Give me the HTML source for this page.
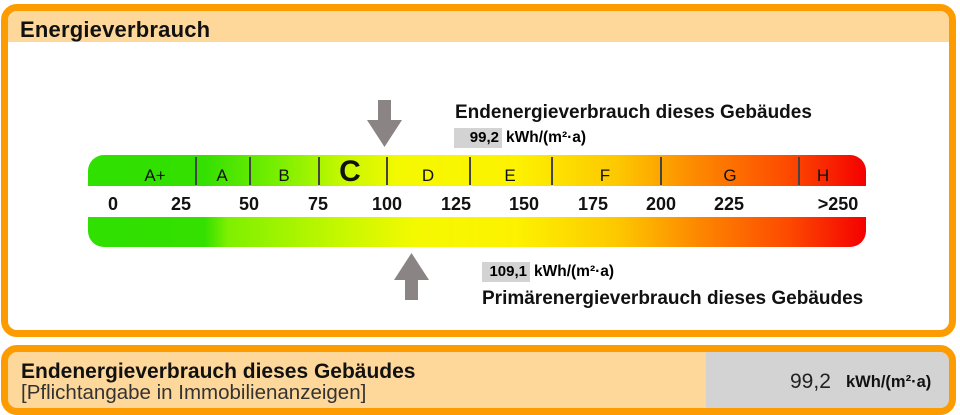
<!DOCTYPE html>
<html><head><meta charset="utf-8"><style>
body{margin:0;width:960px;height:415px;background:#fff;font-family:"Liberation Sans",sans-serif;position:relative;overflow:hidden}
.a{position:absolute;white-space:nowrap}
.box{position:absolute;border:7px solid #fd9c00;border-radius:16px;box-sizing:border-box;overflow:hidden;background:#fff}
.t{position:absolute;font-size:17px;color:#111;transform:translateX(-50%);top:167px;line-height:17px}
.n{position:absolute;font-size:18px;font-weight:bold;color:#111;transform:translateX(-50%);top:194px;line-height:20px}
.d{position:absolute;top:157px;width:2px;height:28px;background:#444}
.g{position:absolute;background:#d3d3d3;font-weight:bold;font-size:14px;text-align:right;padding-right:3px;box-sizing:border-box;line-height:20px}
</style></head><body>
<div class="box" style="left:1px;top:4px;width:955px;height:333px">
<div style="position:absolute;left:0;top:0;right:0;height:31px;background:#fed79a"></div>
<div class="a" style="left:12px;top:6px;font-size:22px;font-weight:bold;color:#111;letter-spacing:0.2px">Energieverbrauch</div>
</div>
<div style="position:absolute;left:88px;top:155px;width:778px;height:31px;border-radius:16px 16px 0 0;background:linear-gradient(90deg,#2fe000 0%,#34e000 15%,#7ef000 25%,#c8f800 33%,#f4f900 40%,#fdf200 55%,#fdc800 68%,#fd8a00 78%,#fd4a00 90%,#f50000 100%)"></div>
<div style="position:absolute;left:88px;top:217px;width:778px;height:30px;border-radius:0 0 16px 16px;background:linear-gradient(90deg,#2fe000 0%,#34e000 15%,#7ef000 18%,#c8f800 33%,#f4f900 42%,#fdf200 55%,#fdc800 68%,#fd8a00 78%,#fd4a00 90%,#f50000 100%)"></div>
<div class="d" style="left:195px"></div><div class="d" style="left:249px"></div><div class="d" style="left:318px"></div><div class="d" style="left:386px"></div><div class="d" style="left:469px"></div><div class="d" style="left:551px"></div><div class="d" style="left:660px"></div><div class="d" style="left:798px"></div>
<div class="t" style="left:155px">A+</div><div class="t" style="left:222px">A</div><div class="t" style="left:284px">B</div>
<div class="t" style="left:350px;font-size:30px;font-weight:bold;top:157px;line-height:30px">C</div>
<div class="t" style="left:428px">D</div><div class="t" style="left:510px">E</div><div class="t" style="left:605px">F</div><div class="t" style="left:730px">G</div><div class="t" style="left:823px">H</div>
<div class="n" style="left:113px">0</div><div class="n" style="left:181px">25</div><div class="n" style="left:249px">50</div><div class="n" style="left:318px">75</div><div class="n" style="left:387px">100</div><div class="n" style="left:456px">125</div><div class="n" style="left:524px">150</div><div class="n" style="left:593px">175</div><div class="n" style="left:661px">200</div><div class="n" style="left:729px">225</div><div class="n" style="left:838px">&gt;250</div>
<svg class="a" style="left:0;top:0" width="960" height="415">
<polygon points="378,100 391,100 391,120 402,120 384.5,147 367,120 378,120" fill="#8a8484"/>
<polygon points="405,300 418,300 418,280 429,280 411.5,253 394,280 405,280" fill="#8a8484"/>
</svg>
<div class="a" style="left:455px;top:102px;font-size:19px;font-weight:bold;color:#111">Endenergieverbrauch dieses Gebäudes</div>
<div class="g" style="left:454px;top:128px;width:48px;font-size:15px">99,2</div>
<div class="a" style="left:506px;top:129px;font-size:15.5px;font-weight:bold">kWh/(m²·a)</div>
<div class="g" style="left:482px;top:262px;width:48px;font-size:15px">109,1</div>
<div class="a" style="left:534px;top:263px;font-size:15.5px;font-weight:bold">kWh/(m²·a)</div>
<div class="a" style="left:482px;top:288px;font-size:19px;font-weight:bold;color:#111">Primärenergieverbrauch dieses Gebäudes</div>
<div class="box" style="left:1px;top:345px;width:955px;height:70px;background:#fed79a">
<div style="position:absolute;left:698px;top:0;right:0;bottom:0;background:#d3d3d3"></div>
<div class="a" style="left:13px;top:8px;font-size:21px;font-weight:bold;color:#111">Endenergieverbrauch dieses Gebäudes</div>
<div class="a" style="left:13px;top:29px;font-size:20.5px;color:#333">[Pflichtangabe in Immobilienanzeigen]</div>
<div class="a" style="left:782px;top:18px;font-size:21px;color:#222">99,2</div>
<div class="a" style="left:838px;top:21px;font-size:16.5px;font-weight:bold;color:#111">kWh/(m²·a)</div>
</div>
</body></html>
